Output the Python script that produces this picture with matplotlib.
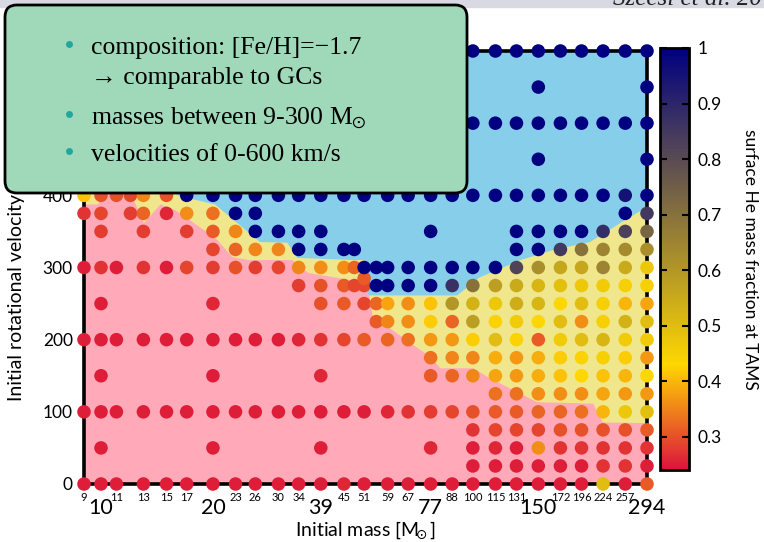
import matplotlib.pyplot as plt
from matplotlib.colors import LinearSegmentedColormap, Normalize
from matplotlib.patches import FancyBboxPatch, Rectangle
from matplotlib.lines import Line2D
from matplotlib.transforms import IdentityTransform

# ---- data: initial mass grid (Msun) and surface He at TAMS per velocity row ----
masses_all = [9, 10, 11, 13, 15, 17, 20, 23, 26, 30, 34, 39, 45, 51, 59, 67,
              77, 88, 100, 115, 131, 150, 172, 196, 224, 257, 294]
masses_high = [100, 115, 131, 150, 172, 196, 224, 257, 294]
masses_sparse = [10, 20, 39, 77, 150, 294]

he_v0 = [0.25, 0.25, 0.25, 0.25, 0.25, 0.25, 0.25, 0.25, 0.25, 0.25, 0.25, 0.25, 0.26, 0.25,
         0.25, 0.25, 0.25, 0.25, 0.25, 0.25, 0.25, 0.25, 0.25, 0.25, 0.50, 0.25, 0.31]
he_v25 = [0.25, 0.25, 0.25, 0.25, 0.25, 0.25, 0.27, 0.27, 0.25]
m_v50 = [10, 20, 39, 77, 100, 115, 131, 150, 172, 196, 224, 257, 294]
he_v50 = [0.25, 0.25, 0.25, 0.26, 0.25, 0.26, 0.25, 0.36, 0.27, 0.27, 0.27, 0.27, 0.27]
he_v75 = [0.27, 0.29, 0.29, 0.29, 0.30, 0.30, 0.30, 0.30, 0.31]
he_v100 = [0.25, 0.25, 0.25, 0.25, 0.25, 0.25, 0.25, 0.25, 0.25, 0.25, 0.25, 0.25, 0.25, 0.25,
           0.26, 0.27, 0.28, 0.29, 0.30, 0.31, 0.31, 0.32, 0.32, 0.33, 0.40, 0.47, 0.49]
m_v125 = [115, 131, 150, 172, 196, 224, 257, 294]
he_v125 = [0.33, 0.33, 0.36, 0.36, 0.36, 0.38, 0.37, 0.37]
m_v150 = [10, 20, 39, 77, 88, 100, 115, 131, 150, 172, 196, 224, 257, 294]
he_v150 = [0.25, 0.25, 0.26, 0.31, 0.32, 0.35, 0.38, 0.37, 0.39, 0.41, 0.43, 0.41, 0.40, 0.43]
m_v175 = [77, 88, 100, 115, 131, 150, 172, 196, 224, 257, 294]
he_v175 = [0.33, 0.35, 0.35, 0.39, 0.37, 0.39, 0.42, 0.44, 0.45, 0.42, 0.37]
he_v200 = [0.25, 0.25, 0.25, 0.25, 0.25, 0.25, 0.25, 0.25, 0.25, 0.25, 0.26, 0.27, 0.29, 0.31,
           0.32, 0.33, 0.37, 0.37, 0.42, 0.50, 0.44, 0.31, 0.46, 0.50, 0.52, 0.46, 0.46]
m_v225 = [55, 59, 67, 77, 88, 100, 115, 131, 150, 172, 196, 224, 257, 294]
he_v225 = [0.31, 0.35, 0.36, 0.42, 0.32, 0.58, 0.44, 0.46, 0.43, 0.50, 0.36, 0.45, 0.53, 0.50]
m_v250 = [10, 20, 39, 45, 51, 55, 59, 67, 77, 88, 100, 115, 131, 150, 172, 196, 224, 257, 294]
he_v250 = [0.25, 0.26, 0.30, 0.31, 0.29, 0.32, 0.38, 0.36, 0.41, 0.60, 0.53, 0.47, 0.54, 0.52,
           0.43, 0.50, 0.45, 0.40, 0.38]
m_v275 = [34, 39, 45, 48, 51, 55, 59, 67, 77, 88, 100, 115, 131, 150, 172, 196, 224, 257, 294]
he_v275 = [0.28, 0.30, 0.31, 0.29, 0.29, 1.0, 1.0, 1.0, 1.0, 0.87, 0.70, 0.58, 0.55, 0.52,
           0.49, 0.47, 0.46, 0.45, 0.45]
m_v285 = [51]
he_v285 = [0.31]
m_v300 = [9, 10, 11, 13, 15, 17, 20, 23, 26, 30, 34, 39, 45, 48, 51, 55, 59, 67, 77, 88,
          100, 115, 131, 150, 172, 196, 224, 257, 294]
he_v300 = [0.25, 0.27, 0.25, 0.27, 0.25, 0.29, 0.28, 0.30, 0.28, 0.29, 0.35, 0.36, 0.36, 0.32,
           1.0, 1.0, 1.0, 1.0, 1.0, 1.0, 1.0, 1.0, 0.82, 0.62, 0.56, 0.56, 0.65, 0.55, 0.47]
m_v325 = [20, 23, 26, 30, 34, 39, 45, 48, 131, 150, 172, 196, 224, 257, 294]
he_v325 = [0.29, 0.32, 0.35, 0.35, 1.0, 1.0, 1.0, 1.0, 1.0, 1.0, 0.85, 0.70, 0.65, 0.63, 0.62]
m_v350 = [10, 13, 17, 20, 23, 26, 30, 34, 39, 77, 131, 150, 172, 196, 224, 257, 294]
he_v350 = [0.28, 0.28, 0.28, 0.31, 0.35, 1.0, 1.0, 1.0, 1.0, 1.0, 1.0, 1.0, 1.0, 1.0, 0.88, 0.83, 0.73]
m_v375 = [9, 10, 12, 13, 15, 17, 20, 23, 26, 257, 294]
he_v375 = [0.27, 0.29, 0.28, 0.32, 0.26, 0.36, 0.33, 1.0, 1.0, 1.0, 0.85]
m_v400 = [9, 10, 11, 12, 13, 15, 17, 20, 23, 26, 30, 34, 39, 45, 51, 59, 67, 77, 88, 100,
          115, 131, 150, 172, 196, 224, 257, 294]
he_v400 = [0.41, 0.30, 0.30, 0.29, 0.35, 0.30, 1.0, 1.0, 1.0, 1.0, 1.0, 1.0, 1.0, 1.0, 1.0,
           1.0, 1.0, 1.0, 1.0, 1.0, 1.0, 1.0, 1.0, 1.0, 1.0, 1.0, 0.95, 1.0]
he_sparse_top = [1.0, 1.0, 1.0, 1.0, 1.0, 1.0]
he_full_top = [1.0] * len(masses_all)

rows = [
    (0, masses_all, he_v0), (25, masses_high, he_v25), (50, m_v50, he_v50),
    (75, masses_high, he_v75), (100, masses_all, he_v100), (125, m_v125, he_v125),
    (150, m_v150, he_v150), (175, m_v175, he_v175), (200, masses_all, he_v200),
    (225, m_v225, he_v225), (250, m_v250, he_v250), (275, m_v275, he_v275),
    (285, m_v285, he_v285), (300, m_v300, he_v300), (325, m_v325, he_v325),
    (350, m_v350, he_v350), (375, m_v375, he_v375), (400, m_v400, he_v400),
    (450, masses_sparse, he_sparse_top), (500, masses_all, he_full_top),
    (550, masses_sparse, he_sparse_top), (600, masses_all, he_full_top),
]

# region boundaries (mass, velocity)
pink_m = [9, 9.8, 10.2, 11.8, 12.2, 13, 14.4, 15.8, 20.2, 22.5, 24.8, 32.6, 36, 44.7, 50,
          52.5, 53.5, 61.7, 77, 81.5, 100, 111, 148.5, 210, 223, 294]
pink_v = [388, 388, 420, 420, 395, 362, 388, 380, 342, 315, 311, 311, 293, 285, 280,
          262, 235, 211, 176, 161, 161, 147, 114, 112, 86, 85]
blue_m = [9, 15, 16.1, 20.2, 26.7, 31.6, 33.6, 48.1, 51, 51.5, 90.5, 104, 134, 164, 206, 248, 294]
blue_v = [410, 410, 400, 388, 336, 335, 314, 311, 311, 262, 262, 287, 311, 325, 336, 362, 385]

major_ticks = [10, 20, 39, 77, 150, 294]
minor_ticks = [9, 11, 13, 15, 17, 23, 26, 30, 34, 45, 51, 59, 67, 88, 100, 115, 131,
               172, 196, 224, 257]

W, H = 764, 542
plt.rcParams['font.family'] = ['Lato', 'DejaVu Sans']
fig = plt.figure(figsize=(W / 100, H / 100), dpi=100)

ax = fig.add_axes([84 / W, 1 - 484 / H, 563 / W, 433 / H])
ax.set_xscale('log')
ax.set_xlim(9, 294)
ax.set_ylim(0, 600)
ax.set_facecolor('#F0E68C')
ax.fill_between(blue_m, blue_v, 600, color='#87CEEB', lw=0, zorder=1)
ax.fill_between(pink_m, 0, pink_v, color='#FFA9B9', lw=0, zorder=1.5)

cmap = LinearSegmentedColormap.from_list(
    'he', [(0.0, '#DC143C'), ((0.43 - 0.24) / 0.76, '#FFD700'), (1.0, '#000080')])
norm = Normalize(vmin=0.24, vmax=1.0)

xs, ys, cs = [], [], []
for v, ms, hes in rows:
    for m, h in zip(ms, hes):
        xs.append(m)
        ys.append(v)
        cs.append(h)
sc = ax.scatter(xs, ys, c=cs, cmap=cmap, norm=norm, s=95, lw=0, zorder=5, clip_on=False)

for sp in ax.spines.values():
    sp.set_linewidth(2.6)
    sp.set_zorder(4)

ax.set_xticks(major_ticks, [str(t) for t in major_ticks], fontsize=15.5)
ax.set_xticks(minor_ticks, [str(t) for t in minor_ticks], minor=True, fontsize=8)
ax.tick_params(axis='x', which='major', length=0, pad=10)
ax.tick_params(axis='x', which='minor', length=0, pad=6)
ax.set_yticks([0, 100, 200, 300, 400, 500, 600])
ax.tick_params(axis='y', length=0, pad=8, labelsize=12.5)
ax.set_xlabel(r'Initial mass [M$\!\!_\odot$]', fontsize=14, labelpad=1)
ax.set_ylabel('Initial rotational velocity [km/s]', fontsize=14, labelpad=13)

# colorbar
cax = fig.add_axes([660 / W, 1 - 470 / H, 29 / W, 422 / H])
cb = fig.colorbar(sc, cax=cax)
cb.set_ticks([0.3, 0.4, 0.5, 0.6, 0.7, 0.8, 0.9, 1.0])
cb.set_ticklabels(['0.3', '0.4', '0.5', '0.6', '0.7', '0.8', '0.9', '1'])
cax.tick_params(direction='in', length=5, width=1.5, left=True, right=True,
                labelsize=12.5, pad=6)
cb.outline.set_linewidth(2)
cb.set_label('surface He mass fraction at TAMS', rotation=270, fontsize=12.5, labelpad=26)

# slide header strip
fig.add_artist(Rectangle((0, 1 - 7 / H), 1, 7 / H, transform=fig.transFigure,
                         color='#D9D9E3', zorder=3))
fig.text(613 / W, 1 - 5 / H, 'Szécsi et al. 20', fontsize=18, style='italic',
         family=['Liberation Serif', 'DejaVu Serif'], color='#222222',
         va='baseline', zorder=4)

# text box
box = FancyBboxPatch((5, H - 193), 462, 188, boxstyle='round,pad=0,rounding_size=12',
                     transform=IdentityTransform(), facecolor='#9FD9B9',
                     edgecolor='black', lw=2, zorder=5)
fig.add_artist(box)
serif = ['Liberation Serif', 'DejaVu Serif']
lines = [
    (48, 'composition: [Fe/H]=\u22121.7', True),
    (78, '\u2192 comparable to GCs', False),
    (118, r'masses between 9-300 M$\!_\odot$', True),
    (155, 'velocities of 0-600 km/s', True),
]
for y, txt, bullet in lines:
    fig.text(91 / W, 1 - y / H, txt, fontsize=18.5, family=serif, math_fontfamily='stix',
             va='center', ha='left', zorder=6)
    if bullet:
        fig.add_artist(Line2D([69], [H - y + 4], marker='o', ms=5, mew=0, color='#1FA99E',
                              transform=IdentityTransform(), zorder=6))

fig.savefig('out.png', dpi=100)
